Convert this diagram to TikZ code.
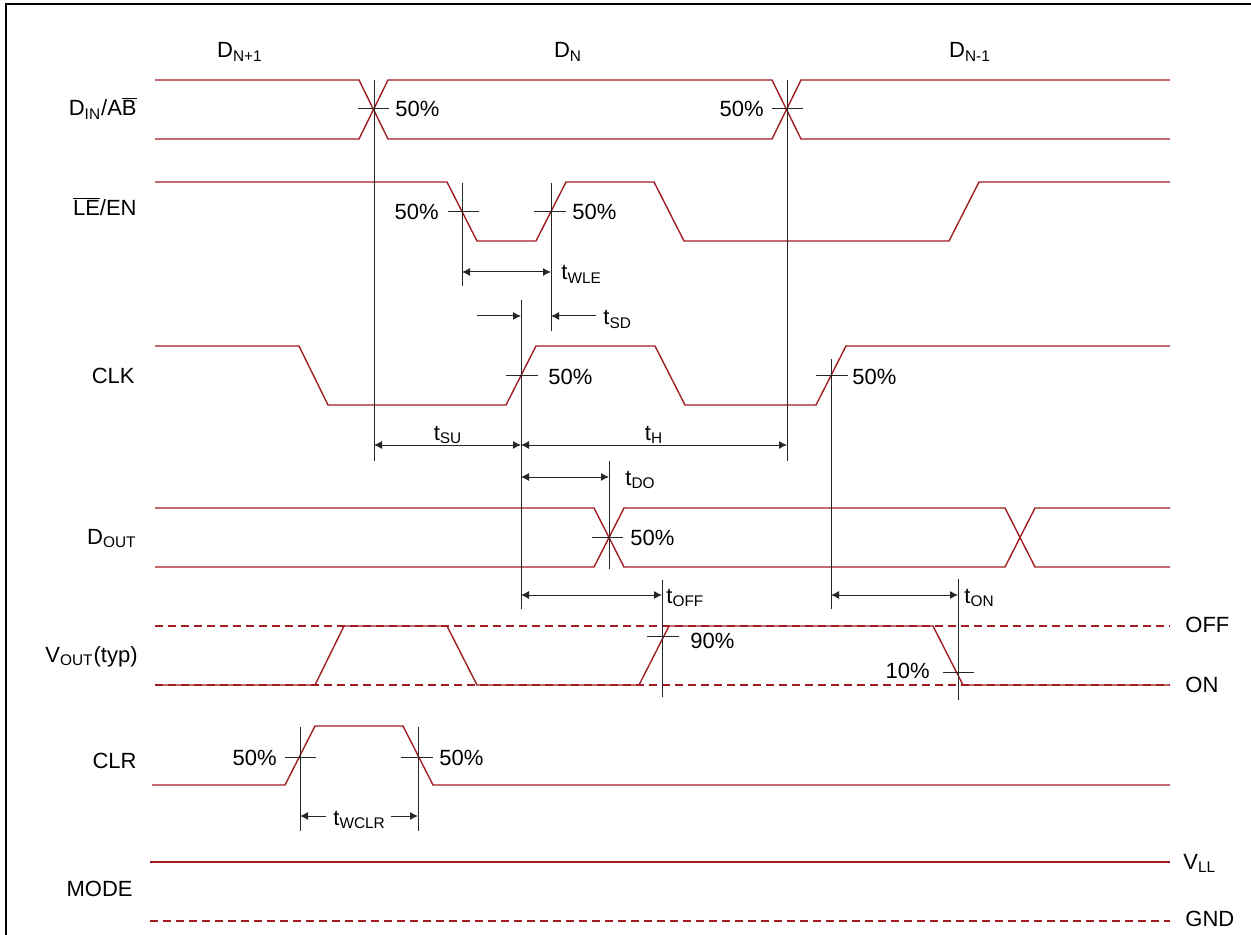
\documentclass[tikz,border=0pt]{standalone}
\usepackage{fontspec}
\setmainfont{Liberation Sans}
\usepackage{xcolor}
\usetikzlibrary{arrows.meta}

\definecolor{sigred}{RGB}{160,30,35}
\newcommand{\ssub}[1]{\textsubscript{#1}}

\begin{document}
\begin{tikzpicture}[x=0.5pt,y=-0.5pt,font=\fontsize{11}{13}\selectfont,
  sig/.style={sigred,line width=0.7pt},
  lvl/.style={sigred,line width=0.6pt,dash pattern=on 4pt off 2.5pt},
  marker/.style={black!85,line width=0.5pt},
  dim/.style={black!85,line width=0.5pt,{Latex[length=4pt,width=4pt]}-{Latex[length=4pt,width=4pt]}},
  half/.style={black!85,line width=0.5pt,-{Latex[length=4pt,width=4pt]}},
  lbl/.style={inner sep=0pt}]

%% cadre
\useasboundingbox (0,0) rectangle (1251,935);
\draw[line width=1.2pt] (6,935) -- (6,4) -- (1251,4);

%% donnees
\node[lbl,anchor=base] (dnp) at (240,58) {D\ssub{N+1}};
\node[lbl,anchor=base] (dn) at (568,58) {D\ssub{N}};
\node[lbl,anchor=base] (dnm) at (970,58) {D\ssub{N-1}};

%% noms des signaux
\node[lbl,anchor=base east] (ldin) at (137,116) {D\ssub{IN}/A$\overline{\mbox{B}}$};
\node[lbl,anchor=base east] (lle) at (137,216) {$\overline{\mbox{LE}}$/EN};
\node[lbl,anchor=base east] (lclk) at (135,383) {CLK};
\node[lbl,anchor=base east] (ldout) at (137,544) {D\ssub{OUT}};
\node[lbl,anchor=base east] (lvout) at (138,662) {V\ssub{OUT}(typ)};
\node[lbl,anchor=base east] (lclr) at (137,768) {CLR};
\node[lbl,anchor=base east] (lmode) at (133,896) {MODE};

%% D_IN
\draw[sig] (155,80) -- (359,80) -- (388,139) -- (772,139) -- (801,80) -- (1170,80);
\draw[sig] (155,139) -- (359,139) -- (388,80) -- (772,80) -- (801,139) -- (1170,139);

%% LE/EN
\draw[sig] (155,182) -- (447,182) -- (477,241) -- (536,241) -- (566,182) -- (654,182)
  -- (684,241) -- (949,241) -- (979,182) -- (1170,182);

%% CLK
\draw[sig] (155,346) -- (299,346) -- (328,405) -- (506,405) -- (536,346) -- (655,346)
  -- (685,405) -- (816,405) -- (846,346) -- (1170,346);

%% D_OUT
\draw[sig] (155,508) -- (594,508) -- (624,567) -- (1005,567) -- (1035,508) -- (1170,508);
\draw[sig] (155,567) -- (594,567) -- (624,508) -- (1005,508) -- (1035,567) -- (1170,567);

%% V_OUT
\draw[lvl] (155,626) -- (1170,626);
\draw[lvl] (155,685) -- (1170,685);
\draw[sig] (155,685) -- (315,685) -- (344,626) -- (447,626) -- (477,685) -- (639,685)
  -- (669,626) -- (933,626) -- (963,685) -- (1170,685);
\node[lbl,anchor=base west] (off) at (1185,632) {OFF};
\node[lbl,anchor=base west] (on) at (1185,692) {ON};

%% CLR
\draw[sig] (152,785) -- (285,785) -- (315,726) -- (403,726) -- (433,785) -- (1170,785);

%% MODE
\draw[sig] (150,862) -- (1170,862);
\draw[lvl] (150,921) -- (1170,921);
\node[lbl,anchor=base west] (vll) at (1183,869) {V\ssub{LL}};
\node[lbl,anchor=base west] (gnd) at (1185,926) {GND};

%% reperes verticaux
\draw[marker] (374,80) -- (374,461);
\draw[marker] (787,80) -- (787,461);
\draw[marker] (462,183) -- (462,286);
\draw[marker] (551,183) -- (551,331);
\draw[marker] (521,300) -- (521,609);
\draw[marker] (831,359) -- (831,609);
\draw[marker] (609,461) -- (609,569);
\draw[marker] (662,580) -- (662,697);
\draw[marker] (958,579) -- (958,700);
\draw[marker] (300,727) -- (300,831);
\draw[marker] (418,727) -- (418,831);

%% traits 50%, 90%, 10%
\draw[marker] (358,109) -- (389,109);
\draw[marker] (772,109) -- (803,109);
\draw[marker] (448,212) -- (479,212);
\draw[marker] (534,212) -- (566,212);
\draw[marker] (506,375) -- (538,375);
\draw[marker] (816,375) -- (848,375);
\draw[marker] (592,537) -- (623,537);
\draw[marker] (647,636) -- (679,636);
\draw[marker] (943,672) -- (974,672);
\draw[marker] (285,757) -- (316,757);
\draw[marker] (401,757) -- (433,757);

%% pourcentages
\node[lbl,anchor=base west] (p1) at (395,117) {50\%};
\node[lbl,anchor=base east] (p2) at (764,117) {50\%};
\node[lbl,anchor=base east] (p3) at (439,220) {50\%};
\node[lbl,anchor=base west] (p4) at (572,220) {50\%};
\node[lbl,anchor=base west] (p5) at (548,384) {50\%};
\node[lbl,anchor=base west] (p6) at (852,384) {50\%};
\node[lbl,anchor=base west] (p7) at (630,545) {50\%};
\node[lbl,anchor=base west] (p8) at (690,648) {90\%};
\node[lbl,anchor=base east] (p9) at (930,678) {10\%};
\node[lbl,anchor=base east] (p10) at (277,765) {50\%};
\node[lbl,anchor=base west] (p11) at (439,765) {50\%};

%% temps
\draw[dim] (462,272) -- (551,272);
\node[lbl,anchor=base west] (twle) at (561,280) {t\ssub{WLE}};
\draw[half] (477,316) -- (521,316);
\draw[half] (596,316) -- (551,316);
\node[lbl,anchor=base west] (tsd) at (603,325) {t\ssub{SD}};
\draw[dim] (374,445) -- (521,445);
\node[lbl,anchor=base] (tsu) at (448,440) {t\ssub{SU}};
\draw[dim] (521,445) -- (787,445);
\node[lbl,anchor=base] (th) at (654,440) {t\ssub{H}};
\draw[dim] (521,477) -- (609,477);
\node[lbl,anchor=base west] (tdo) at (625,485) {t\ssub{DO}};
\draw[dim] (521,595) -- (662,595);
\node[lbl,anchor=base west] (toff) at (666,603) {t\ssub{OFF}};
\draw[dim] (831,595) -- (958,595);
\node[lbl,anchor=base west] (ton) at (964,603) {t\ssub{ON}};
\node[lbl,anchor=base west] (twclr) at (333,825) {t\ssub{WCLR}};
\draw[half] (326,816) -- (300,816);
\draw[half] (391,816) -- (418,816);

\end{tikzpicture}
\end{document}
